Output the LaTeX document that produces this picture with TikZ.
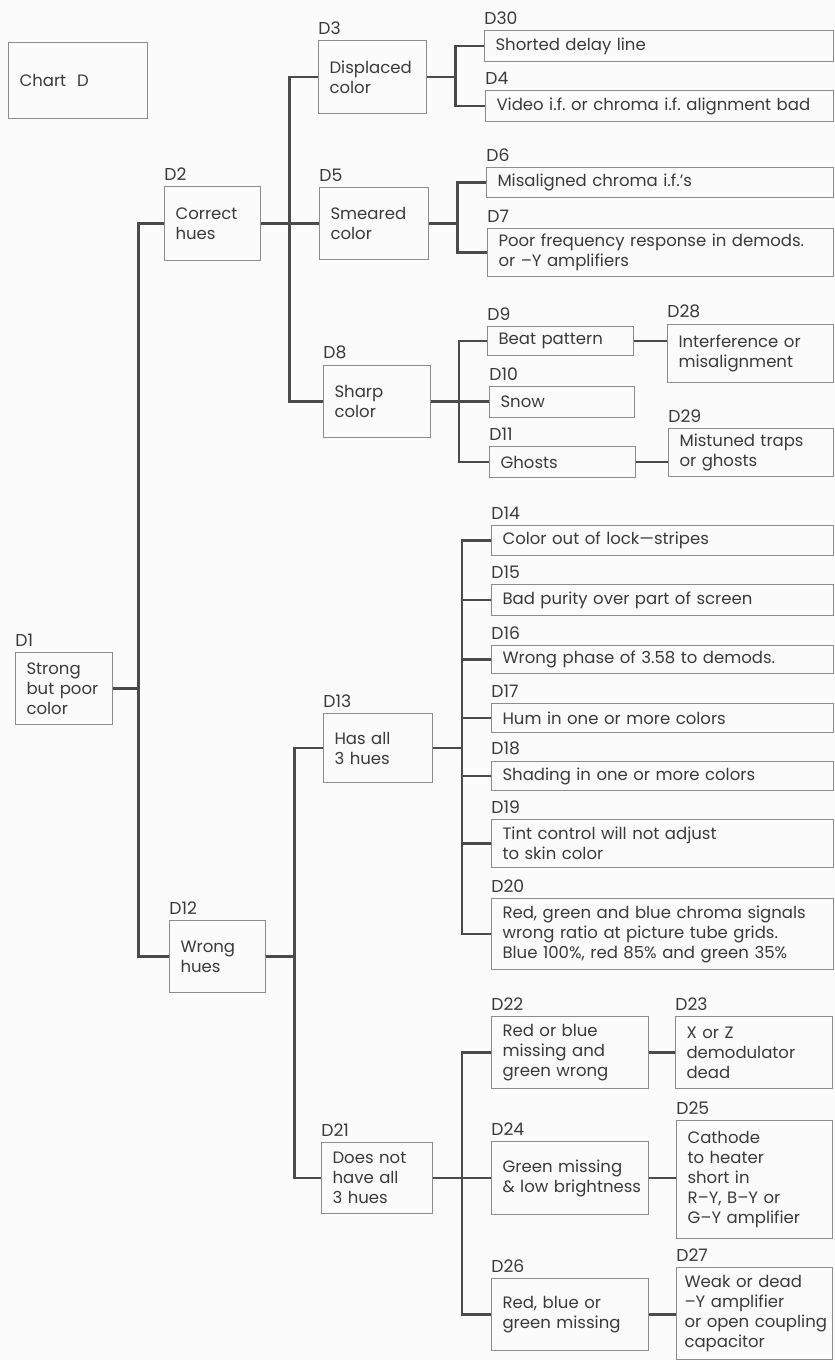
\documentclass[tikz,border=0pt]{standalone}
\usepackage{fontspec}
\setmainfont{Poppins}
\usepackage{xcolor}
\usepackage{tikz}
\usetikzlibrary{calc,positioning}

\definecolor{ink}{HTML}{3A3A3A}
\definecolor{edge}{HTML}{8C8C8C}
\definecolor{wirec}{HTML}{4A4A4A}
\definecolor{paper}{HTML}{FBFBFB}
\hyphenpenalty=10000
\exhyphenpenalty=10000

\begin{document}
\begin{tikzpicture}[x=0.02cm,y=-0.02cm,
  box/.style 2 args={draw=edge,line width=0.6pt,anchor=north west,
    minimum width=#1*0.02cm,minimum height=#2*0.02cm,
    text width=#1*0.02cm-0.44cm,inner xsep=0.22cm,inner ysep=0pt,align=left,
    font=\fontsize{9.4}{11.4}\selectfont,text=ink},
  tag/.style={anchor=south west,inner xsep=0pt,inner ysep=0.11cm,
    font=\fontsize{9.8}{11}\selectfont,text=ink},
  wire/.style={draw=wirec,line width=1.2pt}]
\useasboundingbox (0,0) rectangle (835,1360);
\fill[paper] (0,0) rectangle (835,1360);

\node[box={139}{76}] (chart) at (8,42) {Chart\hspace{0.22cm}D};

% first and second levels
\node[box={97}{72}] (d1) at (15,652) {Strong\\but poor\\color};
\node[tag] (t1) at (d1.north west) {D1};
\node[box={96}{74}] (d2) at (164,186) {Correct\\hues};
\node[tag] (t2) at (d2.north west) {D2};
\node[box={96}{72}] (d12) at (169,920) {Wrong\\hues};
\node[tag] (t12) at (d12.north west) {D12};

\node[box={108}{73}] (d3) at (318,40) {Displaced\\color};
\node[tag] (t3) at (d3.north west) {D3};
\node[box={109}{72}] (d5) at (319,187) {Smeared\\color};
\node[tag] (t5) at (d5.north west) {D5};
\node[box={107}{72}] (d8) at (323,365) {Sharp\\color};
\node[tag] (t8) at (d8.north west) {D8};
\node[box={109}{69}] (d13) at (323,713) {Has all\\3 hues};
\node[tag] (t13) at (d13.north west) {D13};
\node[box={111}{71}] (d21) at (321,1142) {Does not\\have all\\3 hues};
\node[tag] (t21) at (d21.north west) {D21};

% right column
\node[box={349}{31}] (d30) at (484,30) {Shorted delay line};
\node[tag] (t30) at (d30.north west) {D30};
\node[box={348}{31}] (d4) at (485,90) {Video~i.f.~or~chroma~i.f.~alignment~bad};
\node[tag] (t4) at (d4.north west) {D4};
\node[box={347}{30}] (d6) at (486,167) {Misaligned chroma i.f.'s};
\node[tag] (t6) at (d6.north west) {D6};
\node[box={346}{48}] (d7) at (487,228) {Poor frequency response in demods.\\or –Y amplifiers};
\node[tag] (t7) at (d7.north west) {D7};

\node[box={146}{29}] (d9) at (487,326) {Beat pattern};
\node[tag] (t9) at (d9.north west) {D9};
\node[box={145}{31}] (d10) at (489,386) {Snow};
\node[tag] (t10) at (d10.north west) {D10};
\node[box={146}{31}] (d11) at (489,446) {Ghosts};
\node[tag] (t11) at (d11.north west) {D11};
\node[box={166}{58}] (d28) at (667,324) {Interference or\\misalignment};
\node[tag] (t28) at (d28.north west) {D28};
\node[box={165}{48}] (d29) at (668,428) {Mistuned traps\\or ghosts};
\node[tag] (t29) at (d29.north west) {D29};

\node[box={342}{30}] (d14) at (491,525) {Color out of lock—stripes};
\node[tag] (t14) at (d14.north west) {D14};
\node[box={342}{31}] (d15) at (491,584) {Bad purity over part of screen};
\node[tag] (t15) at (d15.north west) {D15};
\node[box={342}{28}] (d16) at (491,645) {Wrong phase of 3.58 to demods.};
\node[tag] (t16) at (d16.north west) {D16};
\node[box={342}{29}] (d17) at (491,703) {Hum in one or more colors};
\node[tag] (t17) at (d17.north west) {D17};
\node[box={342}{29}] (d18) at (491,761) {Shading in one or more colors};
\node[tag] (t18) at (d18.north west) {D18};
\node[box={342}{48}] (d19) at (491,819) {Tint control will not adjust\\to skin color};
\node[tag] (t19) at (d19.north west) {D19};
\node[box={342}{71}] (d20) at (491,898) {Red,~green~and~blue~chroma~signals\\wrong ratio at picture tube grids.\\Blue~100\%,~red~85\%~and~green~35\%};
\node[tag] (t20) at (d20.north west) {D20};

\node[box={157}{72}] (d22) at (491,1016) {Red or blue\\missing and\\green wrong};
\node[tag] (t22) at (d22.north west) {D22};
\node[box={157}{73}] (d24) at (491,1141) {Green missing\\\&~low~brightness};
\node[tag] (t24) at (d24.north west) {D24};
\node[box={157}{72}] (d26) at (491,1278) {Red, blue or\\green missing};
\node[tag] (t26) at (d26.north west) {D26};
\node[box={157}{72}] (d23) at (675,1016) {X or Z\\demodulator\\dead};
\node[tag] (t23) at (d23.north west) {D23};
\node[box={156}{118}] (d25) at (676,1120) {Cathode\\to heater\\short in\\R–Y, B–Y~or\\G–Y~amplifier};
\node[tag] (t25) at (d25.north west) {D25};
\node[box={156}{92},inner xsep=0.16cm,text width=156*0.02cm-0.32cm] (d27) at (676,1267) {Weak or dead\\–Y~amplifier\\or~open~coupling\\capacitor};
\node[tag] (t27) at (d27.north west) {D27};

% junction columns
\coordinate (j1) at ($(d1.east)!0.5!(d2.west)$);
\coordinate (j2) at ($(d2.east)!0.5!(d3.west)$);
\coordinate (j12) at ($(d12.east)!0.5!(d13.west)$);
\coordinate (j3) at ($(d3.east)!0.5!(d30.west)$);
\coordinate (j5) at ($(d5.east)!0.5!(d6.west)$);
\coordinate (j8) at ($(d8.east)!0.5!(d9.west)$);
\coordinate (j13) at ($(d13.east)!0.5!(d14.west)$);
\coordinate (j21) at ($(d21.east)!0.5!(d22.west)$);

\draw[wire] (d1.east) -- (d1.east -| j1);
\draw[wire] (d2.west) -- (d2.west -| j1) -- (d12.west -| j1) -- (d12.west);

\draw[wire] (d2.east) -- (d5.west);
\draw[wire] (d3.west) -- (d3.west -| j2) -- (d8.west -| j2) -- (d8.west);

\draw[wire] (d12.east) -- (d12.east -| j12);
\draw[wire] (d13.west) -- (d13.west -| j12) -- (d21.west -| j12) -- (d21.west);

\draw[wire] (d3.east) -- (d3.east -| j3);
\draw[wire] (d30.west) -- (d30.west -| j3) -- (d4.west -| j3) -- (d4.west);

\draw[wire] (d5.east) -- (d5.east -| j5);
\draw[wire] (d6.west) -- (d6.west -| j5) -- (d7.west -| j5) -- (d7.west);

\draw[wire] (d8.east) -- (d8.east -| d10.west);
\draw[wire] (d9.west) -- (d9.west -| j8) -- (d11.west -| j8) -- (d11.west);
\draw[wire] (d9.east) -- (d9.east -| d28.west);
\draw[wire] (d11.east) -- (d11.east -| d29.west);

\draw[wire] (d13.east) -- (d13.east -| j13);
\draw[wire] (d14.west) -- (d14.west -| j13) -- (d20.west -| j13) -- (d20.west);
\draw[wire] (d15.west) -- (d15.west -| j13);
\draw[wire] (d16.west) -- (d16.west -| j13);
\draw[wire] (d17.west) -- (d17.west -| j13);
\draw[wire] (d18.west) -- (d18.west -| j13);
\draw[wire] (d19.west) -- (d19.west -| j13);

\draw[wire] (d21.east) -- (d21.east -| j21);
\draw[wire] (d22.west) -- (d22.west -| j21) -- (d26.west -| j21) -- (d26.west);
\draw[wire] (d24.west) -- (d24.west -| j21);
\draw[wire] (d22.east) -- (d23.west);
\draw[wire] (d24.east) -- (d24.east -| d25.west);
\draw[wire] (d26.east) -- (d26.east -| d27.west);
\end{tikzpicture}
\end{document}
